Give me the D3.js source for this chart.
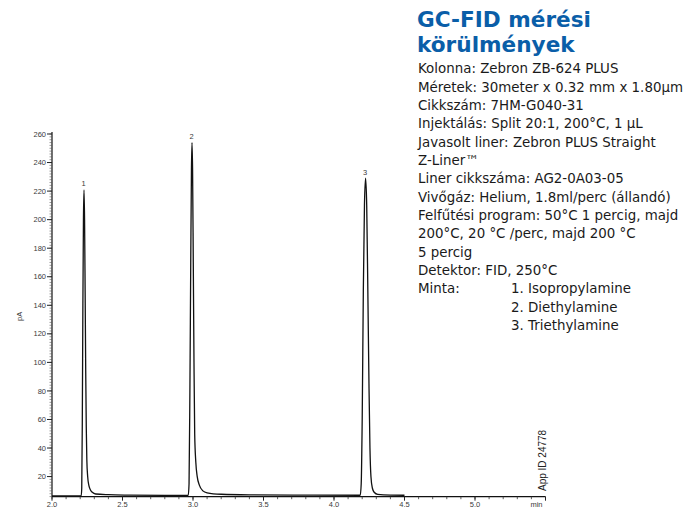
<!DOCTYPE html>
<html>
<head>
<meta charset="utf-8">
<script src="https://cdn.jsdelivr.net/npm/d3@7"></script>
<style>
  html, body { margin: 0; padding: 0; background: #fff; }
  svg { display: block; }
</style>
</head>
<body>
<svg id="chart" width="690" height="508"></svg>
<script>
// Retention time (min) and detector signal (pA) of the chromatogram trace
const traceTime = [
  2.000, 2.207, 2.211, 2.215, 2.219, 2.223, 2.227, 2.231, 2.235, 2.239, 2.243, 2.247,
  2.253, 2.261, 2.271, 2.286, 2.310, 2.400, 2.550, 2.800,
  2.966, 2.972, 2.978, 2.984, 2.989, 2.993, 2.997, 3.002, 3.007, 3.012, 3.020, 3.030,
  3.045, 3.070, 3.100, 3.200, 3.400, 3.800,
  4.186, 4.193, 4.200, 4.208, 4.216, 4.224, 4.232, 4.240, 4.248, 4.255, 4.262, 4.272,
  4.285, 4.310, 4.400, 4.500
];
const traceSignal = [
  6.4, 6.4, 12, 60, 140, 200, 220.8, 200, 150, 95, 55, 32,
  20, 14, 11, 9, 7.8, 7.3, 7.0, 6.8,
  6.8, 15, 80, 170, 235, 254, 235, 170, 100, 50, 30, 20,
  14, 10, 8.6, 7.6, 7.2, 7.0,
  6.9, 15, 60, 150, 210, 229, 210, 150, 85, 40, 20, 12,
  9, 7.5, 7.0, 6.9
];

// Peak numbering
const peakLabels = ["1", "2", "3"];
const peakTimes = [2.227, 2.993, 4.224];
const peakHeights = [220.8, 254, 229];

// Axis ticks
const xTickValues = [2.0, 2.5, 3.0, 3.5, 4.0, 4.5, 5.0];
const xTickLabels = ["2.0", "2.5", "3.0", "3.5", "4.0", "4.5", "5.0"];
const xUnit = "min";
const yTickValues = [20, 40, 60, 80, 100, 120, 140, 160, 180, 200, 220, 240, 260];

// Method conditions panel
const titleLines = ["GC-FID mérési", "körülmények"];
const conditionLines = [
  "Kolonna: Zebron ZB-624 PLUS",
  "Méretek: 30meter x 0.32 mm x 1.80µm",
  "Cikkszám: 7HM-G040-31",
  "Injektálás: Split 20:1, 200°C, 1 µL",
  "Javasolt liner: Zebron PLUS Straight",
  "Z-Liner™",
  "Liner cikkszáma: AG2-0A03-05",
  "Vivőgáz: Helium, 1.8ml/perc (állandó)",
  "Felfűtési program: 50°C 1 percig, majd",
  "200°C, 20 °C /perc, majd 200 °C",
  "5 percig",
  "Detektor: FID, 250°C",
  "Minta:"
];
const sampleLines = ["1. Isopropylamine", "2. Diethylamine", "3. Triethylamine"];
const appId = "App ID 24778";

const svg = d3.select("#chart");

const plot = { left: 52, right: 545.5, top: 132, bottom: 496.7 };

const x = d3.scaleLinear().domain([2.0, 5.5]).range([plot.left, plot.right]);
const y = d3.scaleLinear().domain([5.9, 261.4]).range([plot.bottom, plot.top]);

const axisFont = "'Liberation Sans', Arial, sans-serif";
const axisInk = "#3a3a3a";

// X axis: minor ticks every 0.1 min
const xAxis = svg.append("g").attr("transform", `translate(0,${plot.bottom})`);
xAxis.append("line")
  .attr("x1", plot.left).attr("x2", plot.right)
  .attr("stroke", "#111").attr("stroke-width", 1.3);
xAxis.selectAll("line.minor")
  .data(d3.range(20, 56).map(d => d / 10))
  .join("line").attr("class", "minor")
  .attr("x1", d => x(d)).attr("x2", d => x(d))
  .attr("y1", 0).attr("y2", 2.5)
  .attr("stroke", "#333").attr("stroke-width", 0.8);
xAxis.selectAll("line.major")
  .data(xTickValues.concat([5.5]))
  .join("line").attr("class", "major")
  .attr("x1", d => x(d)).attr("x2", d => x(d))
  .attr("y1", 0).attr("y2", 4)
  .attr("stroke", "#222").attr("stroke-width", 1);
xAxis.selectAll("text.tick")
  .data(xTickValues)
  .join("text").attr("class", "tick")
  .attr("x", d => x(d)).attr("y", 10.5)
  .attr("text-anchor", "middle")
  .attr("font-family", axisFont).attr("font-size", 7.5)
  .attr("fill", axisInk)
  .text((d, i) => xTickLabels[i]);
xAxis.append("text")
  .attr("x", plot.right - 3).attr("y", 10)
  .attr("text-anchor", "end")
  .attr("font-family", axisFont).attr("font-size", 7.5)
  .attr("fill", axisInk)
  .text(xUnit);

// Y axis: minor ticks every 2 pA
const yAxis = svg.append("g").attr("transform", `translate(${plot.left},0)`);
yAxis.append("line")
  .attr("y1", plot.top).attr("y2", plot.bottom)
  .attr("stroke", "#111").attr("stroke-width", 1.2);
yAxis.selectAll("line.minor")
  .data(d3.range(6, 262, 2))
  .join("line").attr("class", "minor")
  .attr("y1", d => y(d)).attr("y2", d => y(d))
  .attr("x1", -2.5).attr("x2", 0)
  .attr("stroke", "#555").attr("stroke-width", 0.6);
yAxis.selectAll("line.major")
  .data(yTickValues)
  .join("line").attr("class", "major")
  .attr("y1", d => y(d)).attr("y2", d => y(d))
  .attr("x1", -5).attr("x2", 0)
  .attr("stroke", "#222").attr("stroke-width", 1);
yAxis.selectAll("text")
  .data(yTickValues)
  .join("text")
  .attr("x", -6).attr("y", d => y(d) + 2.6)
  .attr("text-anchor", "end")
  .attr("font-family", axisFont).attr("font-size", 7.5)
  .attr("fill", axisInk)
  .text(d => d);

svg.append("text")
  .attr("transform", `translate(22,${(plot.top + plot.bottom) / 2 + 2}) rotate(-90)`)
  .attr("text-anchor", "middle")
  .attr("font-family", axisFont).attr("font-size", 7.5)
  .attr("fill", axisInk)
  .text("pA");

// Chromatogram trace
const points = traceTime.map((t, i) => [t, traceSignal[i]]);
svg.append("path")
  .datum(points)
  .attr("d", d3.line().x(d => x(d[0])).y(d => y(d[1])).curve(d3.curveMonotoneX))
  .attr("fill", "none")
  .attr("stroke", "#111")
  .attr("stroke-width", 1.3)
  .attr("stroke-linejoin", "round");

// Peak numbers
svg.selectAll("text.peak")
  .data(peakLabels)
  .join("text").attr("class", "peak")
  .attr("x", (d, i) => x(peakTimes[i]) - 0.5)
  .attr("y", (d, i) => y(peakHeights[i]) - 3.5)
  .attr("text-anchor", "middle")
  .attr("font-family", axisFont).attr("font-size", 7.5)
  .attr("fill", axisInk)
  .text(d => d);

// Application reference
svg.append("text")
  .attr("transform", `translate(546,491) rotate(-90)`)
  .attr("font-family", axisFont).attr("font-size", 10)
  .attr("fill", "#222")
  .text(appId);

// Method conditions
const panelX = 418;
const textFont = "'DejaVu Sans', Verdana, sans-serif";
svg.selectAll("text.title")
  .data(titleLines)
  .join("text").attr("class", "title")
  .attr("x", panelX - 1)
  .attr("y", (d, i) => 27 + i * 25)
  .attr("font-family", textFont).attr("font-weight", "bold")
  .attr("font-size", 21.6)
  .attr("fill", "#0a5ea8")
  .text(d => d);

const lineY = i => 73.3 + i * 18.33;
svg.selectAll("text.cond")
  .data(conditionLines)
  .join("text").attr("class", "cond")
  .attr("x", panelX)
  .attr("y", (d, i) => lineY(i))
  .attr("font-family", textFont).attr("font-size", 13.4)
  .attr("fill", "#1a1a1a")
  .text(d => d);
svg.selectAll("text.sample")
  .data(sampleLines)
  .join("text").attr("class", "sample")
  .attr("x", 511)
  .attr("y", (d, i) => lineY(conditionLines.length - 1 + i))
  .attr("font-family", textFont).attr("font-size", 13.4)
  .attr("fill", "#1a1a1a")
  .text(d => d);
</script>
</body>
</html>
